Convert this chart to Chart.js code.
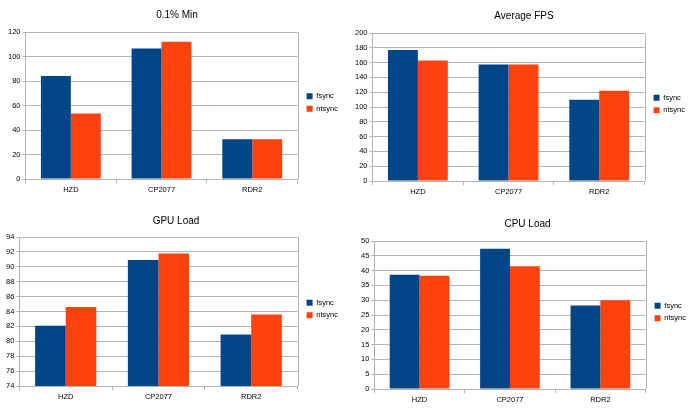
<!DOCTYPE html>
<html>
<head>
<meta charset="utf-8">
<script src="https://cdn.jsdelivr.net/npm/chart.js@4"></script>
<style>
  body { margin: 0; background: #fff; }
  .box { position: absolute; width: 345px; height: 204px; }
</style>
</head>
<body>
<div class="box" style="left:0;top:0"><canvas id="minChart"></canvas></div>
<div class="box" style="left:345px;top:0"><canvas id="avgChart"></canvas></div>
<div class="box" style="left:0;top:204px"><canvas id="gpuChart"></canvas></div>
<div class="box" style="left:345px;top:204px"><canvas id="cpuChart"></canvas></div>
<script>
// Data
const categories = ["HZD", "CP2077", "RDR2"];
const seriesNames = ["fsync", "ntsync"];

const minFsync = [84, 106.5, 32.5];
const minNtsync = [53.5, 112, 32.5];

const avgFsync = [177, 157.3, 109.7];
const avgNtsync = [162.7, 157.3, 121.8];

const gpuFsync = [82.1, 90.9, 80.9];
const gpuNtsync = [84.6, 91.8, 83.6];

const cpuFsync = [38.6, 47.4, 28.2];
const cpuNtsync = [38.3, 41.5, 30.0];

// y axis ranges: [min, max, step]
const minTicks = [0, 120, 20];
const avgTicks = [0, 200, 20];
const gpuTicks = [74, 94, 2];
const cpuTicks = [0, 50, 5];

const fsyncColor = "#004586";
const ntsyncColor = "#ff420e";
const gridColor = "#b3b3b3";
const fontFamily = "'Liberation Sans', Arial, sans-serif";

// draw the right edge of the plot area (LibreOffice style wall)
const wallBorder = {
  id: "wallBorder",
  afterDraw(chart) {
    const a = chart.chartArea;
    const ctx = chart.ctx;
    ctx.save();
    ctx.strokeStyle = gridColor;
    ctx.lineWidth = 1;
    ctx.beginPath();
    ctx.moveTo(Math.round(a.right) + 0.5, a.top);
    ctx.lineTo(Math.round(a.right) + 0.5, a.bottom);
    ctx.stroke();
    ctx.restore();
  }
};

function makeChart(id, title, fs, nt, ticks, pad, titleGap) {
  const ctx = document.getElementById(id).getContext("2d");
  return new Chart(ctx, {
    type: "bar",
    data: {
      labels: categories,
      datasets: [
        { label: seriesNames[0], data: fs, backgroundColor: fsyncColor },
        { label: seriesNames[1], data: nt, backgroundColor: ntsyncColor }
      ]
    },
    options: {
      responsive: true,
      maintainAspectRatio: false,
      animation: false,
      layout: { padding: pad },
      datasets: {
        bar: { categoryPercentage: 0.66, barPercentage: 1.0 }
      },
      plugins: {
        title: {
          display: true,
          text: title,
          color: "#000",
          font: { family: fontFamily, size: 10, weight: "normal" },
          padding: { top: 0, bottom: titleGap }
        },
        legend: {
          position: "right",
          labels: {
            boxWidth: 6,
            boxHeight: 6,
            padding: 5,
            color: "#000",
            font: { family: fontFamily, size: 7.5 }
          }
        },
        tooltip: { enabled: false }
      },
      scales: {
        x: {
          grid: {
            offset: true,
            drawOnChartArea: false,
            tickLength: 4,
            color: gridColor
          },
          border: { color: gridColor },
          ticks: {
            color: "#000",
            padding: 2,
            font: { family: fontFamily, size: 7.5 }
          }
        },
        y: {
          min: ticks[0],
          max: ticks[1],
          grid: { color: gridColor, tickLength: 3 },
          border: { color: gridColor },
          ticks: {
            stepSize: ticks[2],
            color: "#000",
            padding: 2,
            font: { family: fontFamily, size: 7.5 }
          }
        },
        // empty spacer between plot and legend
        gap: {
          type: "linear",
          position: "right",
          display: true,
          grid: { display: false },
          border: { display: false },
          ticks: { display: false },
          afterFit(scale) { scale.width = 4; }
        }
      }
    },
    plugins: [wallBorder]
  });
}

makeChart("minChart", "0.1% Min", minFsync, minNtsync, minTicks,
  { left: 6, right: -3, top: 9, bottom: 8 }, 11);
makeChart("avgChart", "Average FPS", avgFsync, avgNtsync, avgTicks,
  { left: 8, right: -5, top: 10, bottom: 6 }, 11);
makeChart("gpuChart", "GPU Load", gpuFsync, gpuNtsync, gpuTicks,
  { left: 4, right: -3, top: 11, bottom: 5 }, 10);
makeChart("cpuChart", "CPU Load", cpuFsync, cpuNtsync, cpuTicks,
  { left: 14, right: -6, top: 14, bottom: 2 }, 11);
</script>
</body>
</html>
